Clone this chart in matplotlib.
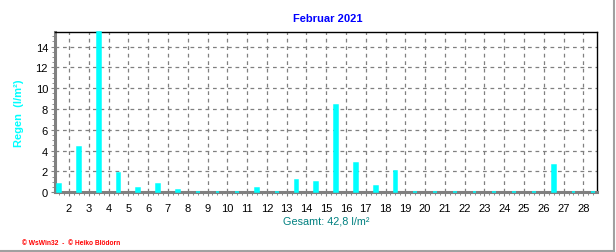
#!/usr/bin/env python

import matplotlib
matplotlib.use("Agg")
import matplotlib.pyplot as plt
from matplotlib.ticker import MultipleLocator
from matplotlib.lines import Line2D

plt.rcParams['font.family'] = ['Liberation Sans', 'DejaVu Sans']

# Niederschlag pro Tag, Februar 2021 (l/m²)
days = list(range(1, 29))
rain = [0.8, 4.4, 15.4, 1.9, 0.4, 0.8, 0.2, 0.0, 0.0, 0.0,
        0.4, 0.0, 1.2, 1.0, 8.4, 2.8, 0.6, 2.0, 0.0, 0.0,
        0.0, 0.0, 0.0, 0.0, 0.0, 2.6, 0.0, 0.0]
tick_days = list(range(2, 29))
title = "Februar 2021"
total_text = "Gesamt: 42,8 l/m²"

fig = plt.figure(figsize=(6.16, 2.53), dpi=100)
ax = fig.add_axes([55 / 616, 59.7 / 253, 542 / 616, 160.3 / 253])

# bars sit in the middle of each day; the edge makes zero days show as a thin mark
bars = ax.bar([d + 0.5 for d in days], rain, width=0.19, color='#00FFFF',
              edgecolor='#00FFFF', linewidth=1.1, zorder=4)
for b in bars:
    b.set_clip_on(False)

ax.set_xlim(1.29, 28.69)
ax.set_ylim(0, 15.4)

ax.set_xticks(tick_days)
ax.set_xticklabels([str(d) for d in tick_days])
ax.xaxis.set_minor_locator(MultipleLocator(0.25))
ax.yaxis.set_major_locator(MultipleLocator(2))
ax.yaxis.set_minor_locator(MultipleLocator(0.5))

ax.grid(True, which='major', color='#808080', linestyle=(0, (3, 3)),
        linewidth=0.9, zorder=0)
ax.tick_params(axis='both', which='major', labelsize=8, length=3,
               color='#808080', pad=2)
ax.tick_params(axis='both', which='minor', length=2, color='#808080')
ax.tick_params(axis='x', pad=4.5)

for s in ('left', 'bottom'):
    ax.spines[s].set_color('#808080')
    ax.spines[s].set_linewidth(2.2)
for s in ('top', 'right'):
    ax.spines[s].set_color('black')
    ax.spines[s].set_linewidth(1.0)

ax.set_ylabel("Regen  (l/m²)", color='#00FFFF', fontsize=8,
              fontweight='bold', labelpad=8)

fig.text(328 / 616, 1 - 19 / 253, title, color='#0000FF', fontsize=8,
         fontweight='bold', ha='center', va='center')
fig.text(326 / 616, 1 - 222 / 253, total_text, color='#008080',
         fontsize=7.8, ha='center', va='center')
fig.text(22 / 616, 1 - 244 / 253, "© WsWin32  -  © Heiko Blödorn",
         color='#FF0000', fontsize=4.8, fontweight='bold',
         ha='left', va='center')

# grey frame on right and bottom of the picture
fig.add_artist(Line2D([614 / 616, 614 / 616], [1.5 / 253, 1], transform=fig.transFigure,
                      color='#A0A0A0', linewidth=1.5))
fig.add_artist(Line2D([0, 614 / 616], [1.5 / 253, 1.5 / 253], transform=fig.transFigure,
                      color='#A0A0A0', linewidth=1.5))

fig.savefig("out.png", dpi=100)
